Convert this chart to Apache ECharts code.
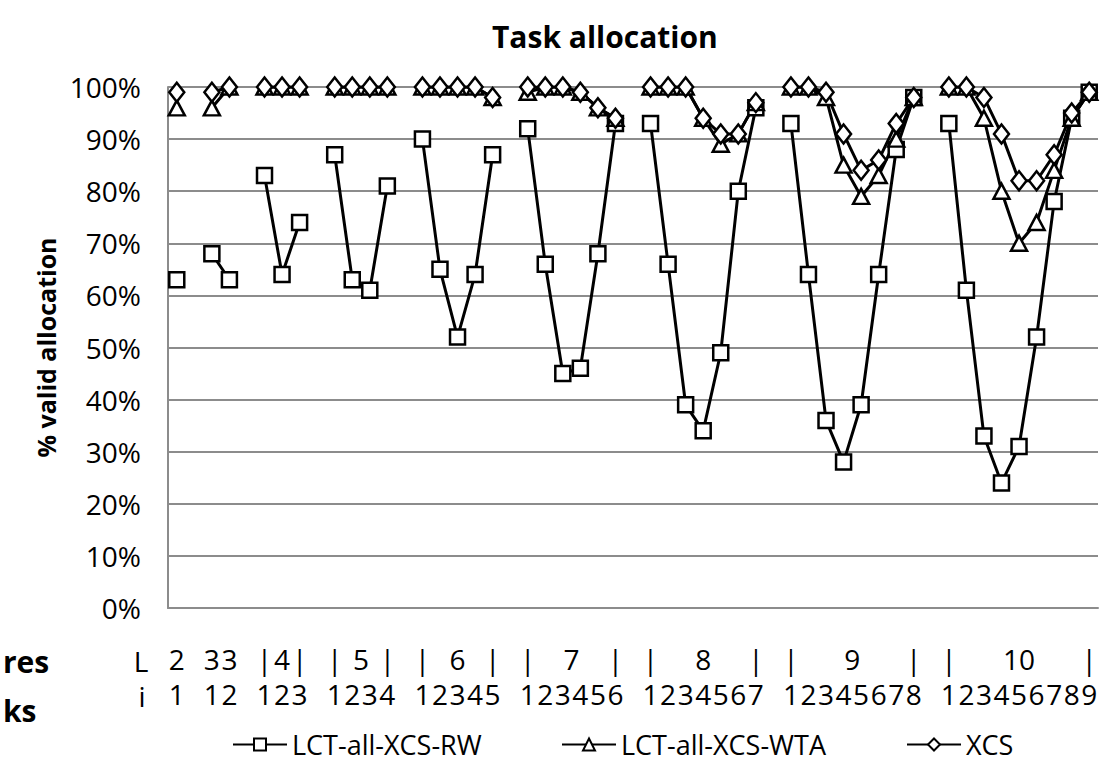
<!DOCTYPE html>
<html>
<head>
<meta charset="utf-8">
<title>Task allocation</title>
<script src="https://cdn.jsdelivr.net/npm/echarts@6/dist/echarts.min.js"></script>
<style>
  html, body { margin: 0; padding: 0; background: #ffffff; }
  #chart { width: 1101px; height: 768px; }
</style>
</head>
<body>
<div id="chart"></div>
<script>
// Number of levels L; each level L has tasks i = 1 .. L-1
const levels = [2, 3, 4, 5, 6, 7, 8, 9, 10];

// % valid allocation per level, one entry per task i
const rwValues = [
  [63],
  [68, 63],
  [83, 64, 74],
  [87, 63, 61, 81],
  [90, 65, 52, 64, 87],
  [92, 66, 45, 46, 68, 93],
  [93, 66, 39, 34, 49, 80, 96],
  [93, 64, 36, 28, 39, 64, 88, 98],
  [93, 61, 33, 24, 31, 52, 78, 94, 99]
];
const wtaValues = [
  [96],
  [96, 100],
  [100, 100, 100],
  [100, 100, 100, 100],
  [100, 100, 100, 100, 98],
  [99, 100, 100, 99, 96, 94],
  [100, 100, 100, 94, 89, 91, 97],
  [100, 100, 98, 85, 79, 83, 90, 98],
  [100, 100, 94, 80, 70, 74, 84, 94, 99]
];
const xcsValues = [
  [99],
  [99, 100],
  [100, 100, 100],
  [100, 100, 100, 100],
  [100, 100, 100, 100, 98],
  [100, 100, 100, 99, 96, 94],
  [100, 100, 100, 94, 91, 91, 97],
  [100, 100, 99, 91, 84, 86, 93, 98],
  [100, 100, 98, 91, 82, 82, 87, 95, 99]
];

const seriesNames = ['LCT-all-XCS-RW', 'LCT-all-XCS-WTA', 'XCS'];
const yTicks = { min: 0, max: 100, step: 10 };

const FONT = 'Open Sans';

// One category slot per (L, i) and an empty slot between consecutive levels
const categories = [];
const iLabels = [];
const groups = [];
levels.forEach((L, g) => {
  if (g > 0) { categories.push('gap-' + L); iLabels.push(''); }
  const start = categories.length;
  for (let i = 1; i < L; i++) {
    categories.push('L' + L + '-i' + i);
    iLabels.push(String(i));
  }
  groups.push({ L: L, start: start, n: L - 1 });
});

function flatten(perLevel) {
  const out = [];
  perLevel.forEach((vals, g) => {
    if (g > 0) out.push(null);
    vals.forEach(v => out.push(v));
  });
  return out;
}

// Half-step axis for the "L" row: slot 2k+1 sits on category k, slot 2k+2 between k and k+1
const halfCount = categories.length * 2 + 1;
const halfSlots = [];
const lLabels = [];
for (let j = 0; j < halfCount; j++) { halfSlots.push('h' + j); lLabels.push(''); }
groups.forEach(gr => {
  const s = gr.start, n = gr.n;
  if (n === 1) {
    lLabels[2 * s + 1] = String(gr.L);
  } else if (n === 2) {
    lLabels[2 * s + 1] = String(gr.L);
    lLabels[2 * s + 3] = String(gr.L);
  } else {
    lLabels[2 * s + 1] = '|';
    lLabels[2 * (s + n - 1) + 1] = '|';
    lLabels[2 * s + n] = String(gr.L);
  }
});

const markerStyle = { color: '#ffffff', borderColor: '#000000', borderWidth: 2.5 };
const lineStyle = { color: '#000000', width: 3 };

function lineSeries(name, values, symbol, size) {
  return {
    name: name,
    type: 'line',
    xAxisIndex: 0,
    data: flatten(values),
    connectNulls: false,
    symbol: symbol,
    symbolSize: size,
    showAllSymbol: true,
    lineStyle: lineStyle,
    itemStyle: markerStyle,
    emphasis: { disabled: true }
  };
}

const legendText = { fontFamily: FONT, fontSize: 27, color: '#000000' };
function legendAt(name, left) {
  return {
    data: [name],
    left: left,
    top: 731,
    padding: 0,
    itemWidth: 54,
    itemHeight: 15,
    itemGap: 0,
    textStyle: legendText,
    selectedMode: false
  };
}

const AXIS_FONT = 28;

const chart = echarts.init(document.getElementById('chart'), null, { renderer: 'svg' });

chart.setOption({
  animation: false,
  backgroundColor: '#ffffff',
  title: {
    text: 'Task allocation',
    left: 487,
    top: 16,
    textStyle: { fontFamily: FONT, fontSize: 30, fontWeight: 'bold', color: '#000000' }
  },
  legend: [
    legendAt(seriesNames[0], 232),
    legendAt(seriesNames[1], 561),
    legendAt(seriesNames[2], 906)
  ],
  grid: { left: 168, right: 3, top: 87, bottom: 160 },
  xAxis: [
    {
      type: 'category',
      data: categories,
      position: 'bottom',
      boundaryGap: true,
      axisLine: { show: true, lineStyle: { color: '#8c8c8c', width: 2 } },
      axisTick: { show: false },
      axisLabel: {
        interval: 0,
        margin: 72,
        fontFamily: FONT,
        fontSize: AXIS_FONT,
        color: '#000000',
        formatter: (v, idx) => iLabels[idx]
      },
      splitLine: { show: false }
    },
    {
      type: 'category',
      data: halfSlots,
      position: 'bottom',
      boundaryGap: false,
      axisLine: { show: false },
      axisTick: { show: false },
      axisLabel: {
        interval: 0,
        margin: 37,
        fontFamily: FONT,
        fontSize: AXIS_FONT,
        color: '#000000',
        formatter: (v, idx) => lLabels[idx]
      },
      splitLine: { show: false }
    }
  ],
  yAxis: {
    type: 'value',
    min: yTicks.min,
    max: yTicks.max,
    interval: yTicks.step,
    name: '% valid allocation',
    nameLocation: 'middle',
    nameRotate: 90,
    nameGap: 90,
    nameTextStyle: { fontFamily: FONT, fontSize: 25, fontWeight: 'bold', color: '#000000' },
    axisLine: { show: true, lineStyle: { color: '#8c8c8c', width: 2 } },
    axisTick: { show: false },
    axisLabel: {
      margin: 27,
      fontFamily: FONT,
      fontSize: AXIS_FONT,
      color: '#000000',
      formatter: '{value}%'
    },
    splitLine: { show: true, lineStyle: { color: '#8c8c8c', width: 2 } }
  },
  graphic: [
    { type: 'text', x: 141, y: 661, style: { text: 'L', fontFamily: FONT, fontSize: AXIS_FONT, fill: '#000000', align: 'center', verticalAlign: 'middle' } },
    { type: 'text', x: 142, y: 696, style: { text: 'i', fontFamily: FONT, fontSize: AXIS_FONT, fill: '#000000', align: 'center', verticalAlign: 'middle' } },
    { type: 'text', x: 3, y: 661, style: { text: 'res', fontFamily: FONT, fontSize: 30, fontWeight: 'bold', fill: '#000000', align: 'left', verticalAlign: 'middle' } },
    { type: 'text', x: 3, y: 710, style: { text: 'ks', fontFamily: FONT, fontSize: 30, fontWeight: 'bold', fill: '#000000', align: 'left', verticalAlign: 'middle' } }
  ],
  series: [
    lineSeries(seriesNames[0], rwValues, 'rect', 15),
    lineSeries(seriesNames[1], wtaValues, 'triangle', [16, 15]),
    lineSeries(seriesNames[2], xcsValues, 'diamond', [15, 19])
  ]
});
</script>
</body>
</html>
